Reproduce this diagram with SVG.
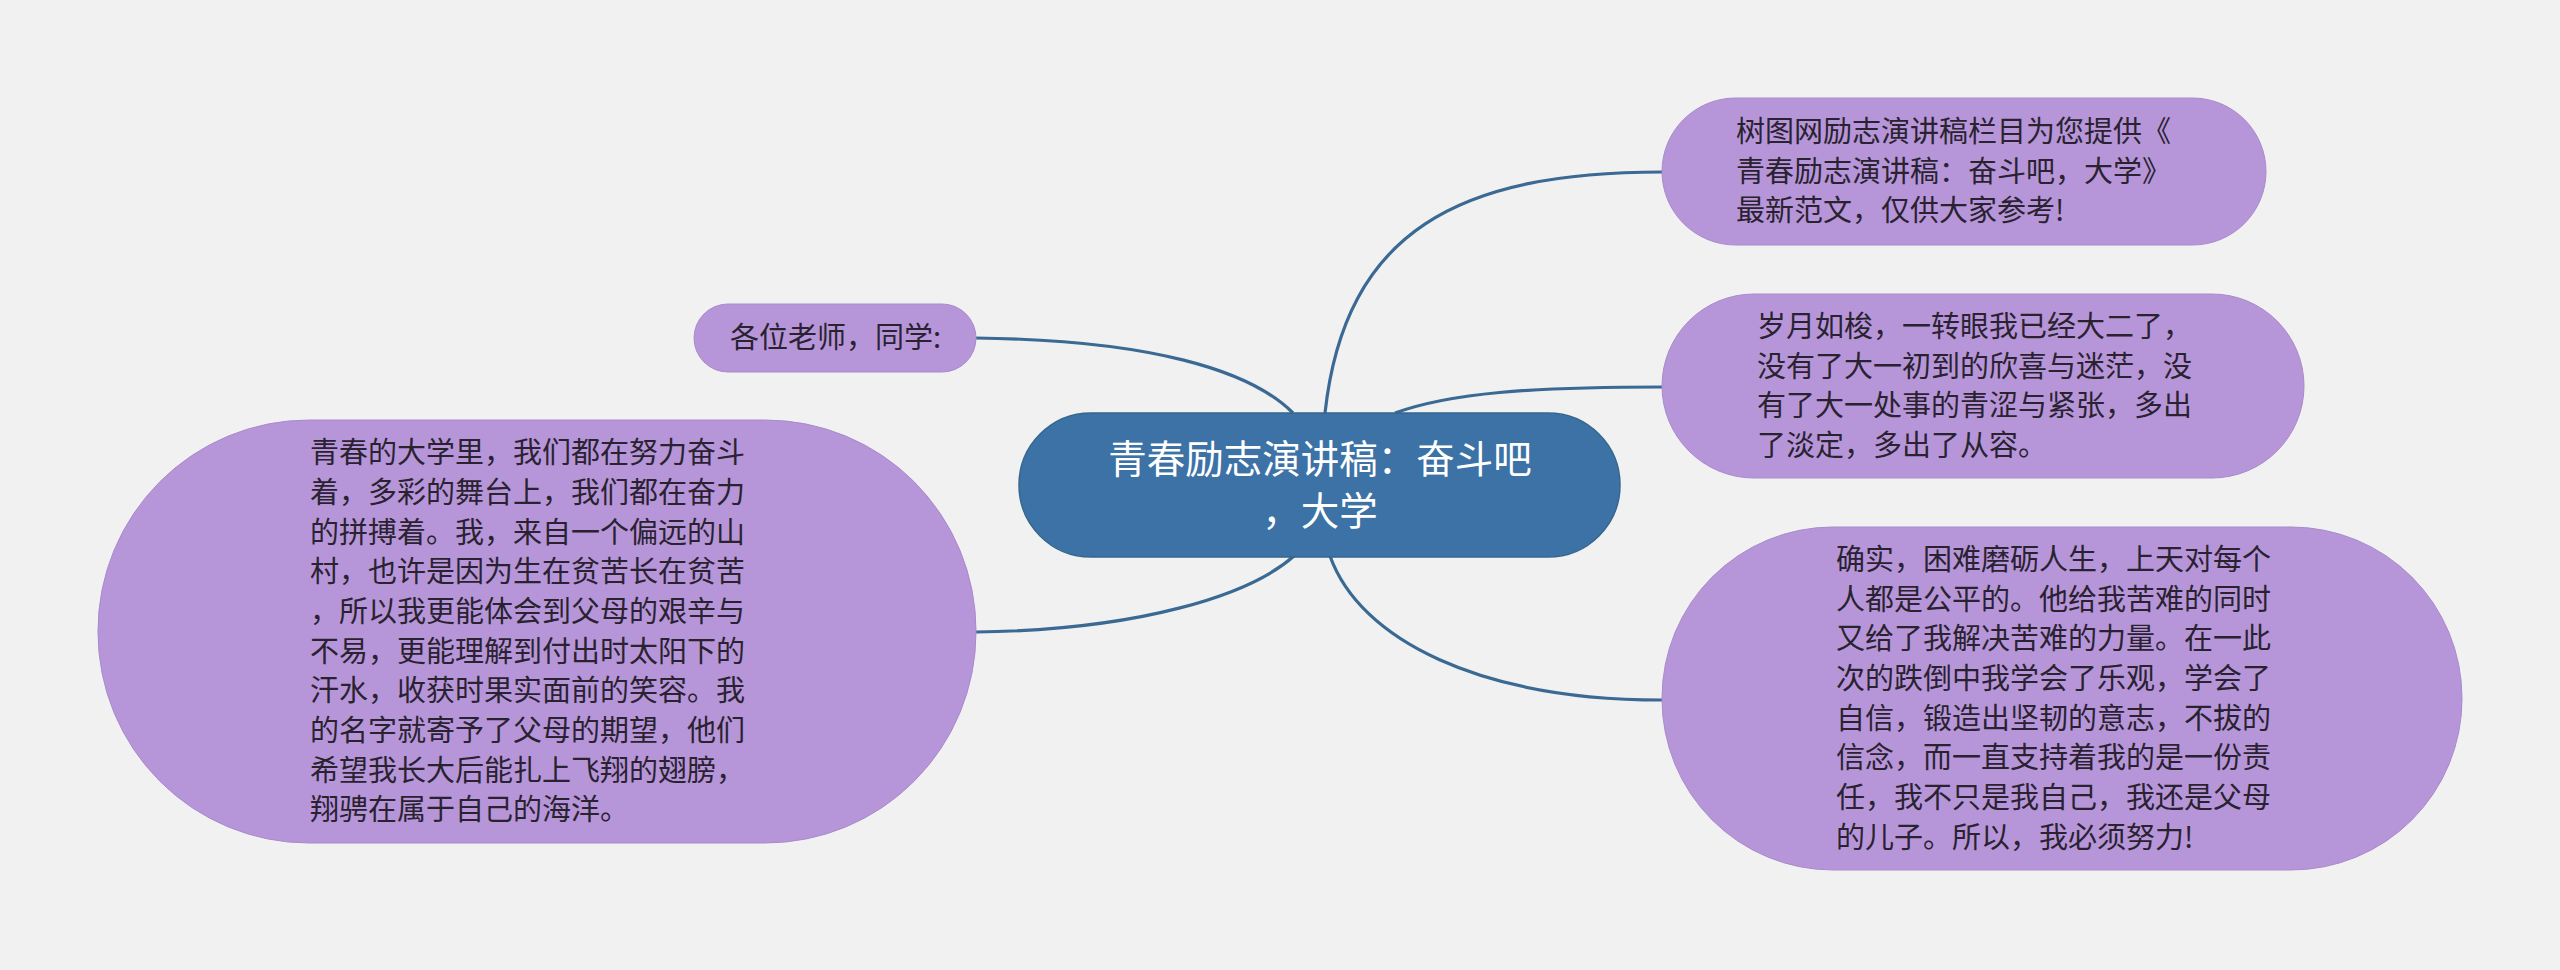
<svg xmlns="http://www.w3.org/2000/svg" width="2560" height="970" viewBox="0 0 2560 970">
<style>
.bg{fill:#f1f1f1}
.sub{fill:#b696d9;stroke:#a98acc;stroke-width:1}
.root{fill:#3c72a5;stroke:#35668f;stroke-width:1.5}
.t{font-family:"Noto Sans CJK SC","Noto Sans",sans-serif;font-size:29px;fill:#2a2230}
.rt{font-family:"Noto Sans CJK SC","Noto Sans",sans-serif;font-size:38.5px;fill:#ffffff;text-anchor:middle}
.c{fill:none;stroke:#3a6994;stroke-width:3.2}
</style>
<rect class="bg" x="0" y="0" width="2560" height="970"/>
<g id="connectors">
<path class="c" d="M1325,413 C1345,230 1460,172 1662,172"/>
<path class="c" d="M1395,413 C1450,393 1530,387 1662,387"/>
<path class="c" d="M1330,556 C1360,640 1480,700 1662,700"/>
<path class="c" d="M976,338 C1150,340 1250,370 1293,413"/>
<path class="c" d="M976,632 C1140,630 1250,595 1294,556"/>
</g>
<g id="root">
<rect class="root" x="1019" y="413" width="601" height="144" rx="72" ry="72"/>
<text class="rt" x="1320" y="473">青春励志演讲稿：奋斗吧</text>
<text class="rt" x="1320" y="525">，大学</text>
</g>
<g id="n1">
<rect class="sub" x="1662" y="98" width="604" height="147" rx="73.5" ry="73.5"/>
<text class="t"><tspan x="1736" y="142">树图网励志演讲稿栏目为您提供《</tspan><tspan x="1736" y="182">青春励志演讲稿：奋斗吧，大学》</tspan><tspan x="1736" y="221">最新范文，仅供大家参考!</tspan></text>
</g>
<g id="n2">
<rect class="sub" x="1662" y="294" width="642" height="184" rx="92" ry="92"/>
<text class="t"><tspan x="1757" y="337">岁月如梭，一转眼我已经大二了，</tspan><tspan x="1757" y="377">没有了大一初到的欣喜与迷茫，没</tspan><tspan x="1757" y="416">有了大一处事的青涩与紧张，多出</tspan><tspan x="1757" y="456">了淡定，多出了从容。</tspan></text>
</g>
<g id="n3">
<rect class="sub" x="1662" y="527" width="800" height="343" rx="171" ry="171"/>
<text class="t"><tspan x="1836" y="570">确实，困难磨砺人生，上天对每个</tspan><tspan x="1836" y="610">人都是公平的。他给我苦难的同时</tspan><tspan x="1836" y="649">又给了我解决苦难的力量。在一此</tspan><tspan x="1836" y="689">次的跌倒中我学会了乐观，学会了</tspan><tspan x="1836" y="729">自信，锻造出坚韧的意志，不拔的</tspan><tspan x="1836" y="768">信念，而一直支持着我的是一份责</tspan><tspan x="1836" y="808">任，我不只是我自己，我还是父母</tspan><tspan x="1836" y="848">的儿子。所以，我必须努力!</tspan></text>
</g>
<g id="n4">
<rect class="sub" x="98" y="420" width="878" height="423" rx="211" ry="211"/>
<text class="t"><tspan x="310" y="463">青春的大学里，我们都在努力奋斗</tspan><tspan x="310" y="503">着，多彩的舞台上，我们都在奋力</tspan><tspan x="310" y="543">的拼搏着。我，来自一个偏远的山</tspan><tspan x="310" y="582">村，也许是因为生在贫苦长在贫苦</tspan><tspan x="310" y="622">，所以我更能体会到父母的艰辛与</tspan><tspan x="310" y="662">不易，更能理解到付出时太阳下的</tspan><tspan x="310" y="701">汗水，收获时果实面前的笑容。我</tspan><tspan x="310" y="741">的名字就寄予了父母的期望，他们</tspan><tspan x="310" y="781">希望我长大后能扎上飞翔的翅膀，</tspan><tspan x="310" y="820">翔骋在属于自己的海洋。</tspan></text>
</g>
<g id="n5">
<rect class="sub" x="694" y="304" width="282" height="68" rx="34" ry="34"/>
<text class="t" x="730" y="348">各位老师，同学:</text>
</g>
</svg>
